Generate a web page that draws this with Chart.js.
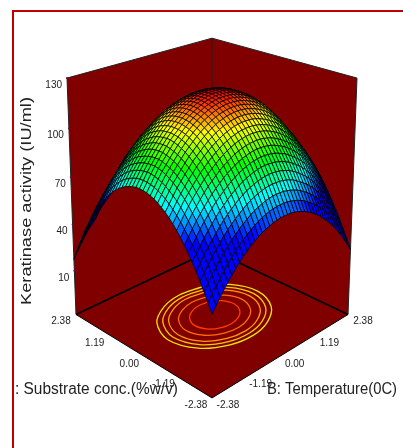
<!DOCTYPE html>
<html><head><meta charset="utf-8">
<style>
html,body{margin:0;padding:0;background:#fff;width:403px;height:448px;overflow:hidden}
#wrap{position:relative;width:403px;height:448px}
#frame{position:absolute;left:12px;top:10px;width:391px;height:438px;border-left:2.5px solid #c00000;border-top:2px solid #c00000;box-sizing:border-box}
canvas{position:absolute;left:0;top:0}
</style>
<script src="https://cdn.jsdelivr.net/npm/chart.js@4"></script>
</head><body><div id="wrap"><canvas id="c" width="403" height="448"></canvas><div id="frame"></div></div>
<script>
const axisEnds=[-2.38,2.38];
const zFloor=-19, zTop=130;
const zTicks=[130,100,70,40,10];
const floorTicks=[2.38,1.19,0.00,-1.19,-2.38];
const floorTickText=["2.38","1.19","0.00","-1.19","-2.38"];
const zTitle="Keratinase activity (IU/ml)";
const aTitle=": Substrate conc.(%w/v)";
const bTitle="B: Temperature(0C)";
const gridA=[-2.38,-2.261,-2.142,-2.023,-1.904,-1.785,-1.666,-1.547,-1.428,-1.309,-1.19,-1.071,-0.952,-0.833,-0.714,-0.595,-0.476,-0.357,-0.238,-0.119,0,0.119,0.238,0.357,0.476,0.595,0.714,0.833,0.952,1.071,1.19,1.309,1.428,1.547,1.666,1.785,1.904,2.023,2.142,2.261,2.38];
const gridB=gridA;
const zRows=[
[30,35.4,40.4,45.2,49.6,53.8,57.7,61.3,64.6,67.7,70.4,72.9,75,76.8,78.4,79.7,80.7,81.4,81.8,82,81.8,81.3,80.5,79.5,78.2,76.6,74.7,72.5,70,67.2,64.1,60.8,57.1,53.2,49,44.5,39.7,34.5,29.1,23.5,17.5],
[33.7,39.1,44.1,48.8,53.3,57.5,61.4,65,68.3,71.4,74.1,76.6,78.7,80.6,82.2,83.5,84.5,85.2,85.6,85.8,85.6,85.2,84.4,83.4,82.1,80.5,78.6,76.4,73.9,71.2,68.1,64.8,61.1,57.2,53,48.5,43.7,38.6,33.2,27.6,21.6],
[37.1,42.5,47.5,52.3,56.8,61,64.9,68.6,71.9,75,77.8,80.3,82.4,84.3,86,87.3,88.3,89,89.6,89.7,89.3,88.9,88.1,87.1,85.8,84.2,82.3,80.1,77.6,74.9,71.9,68.6,65,61.1,56.8,52.3,47.5,42.4,37,31.4,25.5],
[40.4,45.8,50.8,55.6,60.2,64.5,68.4,72.1,75.4,78.5,81.3,83.8,86,87.9,89.5,90.9,91.9,92.6,93.1,93.2,92.8,92.4,91.6,90.6,89.3,87.8,85.9,83.7,81.2,78.5,75.4,72.2,68.5,64.6,60.4,55.9,51.2,46.1,40.7,35,29.1],
[43.4,48.8,54,58.8,63.2,67.5,71.7,75.2,78.4,81.6,84.2,86.8,88.9,90.9,92.6,93.8,94.8,95.7,96.2,96.2,96,95.4,94.6,93.6,92.6,90.9,89,86.8,84.6,81.6,78.8,75.3,71.9,67.6,63.4,59.1,54.6,49.3,43.9,38.2,32.6],
[46.3,51.7,56.8,61.7,66.1,70.4,74.4,78,81.4,84.5,87.2,89.8,92,93.9,95.5,96.8,97.9,98.6,99.3,99.3,99.1,98.7,97.9,96.8,95.5,94,92.1,89.9,87.1,84.6,81.5,78.2,74.5,70.6,66.4,61.9,57.2,52.1,46.7,41,35],
[49.1,54.5,59.6,64.4,68.9,73.2,77.2,80.8,84.2,87.3,90,92.6,94.7,96.7,98.3,99.7,100.7,101.5,102,102.2,102,101.6,100.8,99.7,98.5,96.9,95,92.8,90.3,87.5,84.5,81.2,77.5,73.5,69.3,64.9,60.2,55.1,49.7,44,38.1],
[51.5,57,62.2,67,71.5,75.9,79.9,83.4,86.9,90,92.8,95.3,97.6,99.5,101.1,102.4,103.5,104.3,104.9,105,104.7,104.3,103.6,102.5,101.2,99.7,97.8,95.6,93.1,90.4,87.4,84.1,80.5,76.6,72.4,67.9,63.3,58.2,52.8,47.1,42],
[53.8,59.2,64.3,69.2,73.8,78,82,85.7,89,92.2,95,97.6,99.7,101.7,103.4,104.8,105.8,106.6,107.1,107.3,107.2,106.9,106.2,105.2,104,102.5,100.6,98.5,96.1,93.5,90.4,87.2,83.6,79.9,75.9,71.4,66.4,61.5,56.1,50.6,44.7],
[55.9,61.3,66.4,71.3,75.9,80.2,84.2,87.8,91.2,94.4,97.2,99.8,101.9,103.9,105.6,107,108.1,108.9,109.3,109.6,109.5,109.2,108.5,107.6,106.3,104.8,103,100.9,98.5,95.9,92.8,89.6,86,82.2,78.1,73.7,68.9,63.9,58.6,53.1,47.2],
[57.8,63.2,68.3,73.1,77.8,82.2,86.1,89.9,93.2,96.3,99.2,101.8,104,106,107.7,109.1,110.1,110.9,111.4,111.7,111.6,111.3,110.7,109.7,108.5,107,105.2,103.1,100.7,98.1,95,91.9,88.3,84.5,80.4,76,71.3,66.2,60.9,55.4,49.5],
[59.4,64.9,70,74.9,79.6,83.9,87.9,91.6,95,98.2,101,103.6,105.8,107.8,109.5,110.9,112,112.8,113.3,113.6,113.5,113.2,112.6,111.7,110.5,109,107.2,105.1,102.7,100.1,97,93.9,90.3,86.6,82.5,78.1,73.5,68.3,63,57.5,51.7],
[61,66.5,71.6,76.5,81.1,85.4,89.4,93.1,96.6,99.8,102.6,105.1,107.5,109.4,111.1,112.6,113.7,114.5,115,115.3,115.3,115,114.3,113.4,112.2,110.7,109,107,104.5,102,99,95.7,92.2,88.4,84.3,80,75.2,70.2,64.9,59.4,53.6],
[62.3,67.8,73,77.9,82.5,86.8,90.8,94.5,98,101.2,104.1,106.6,108.9,110.9,112.6,114,115.2,116,116.5,116.9,116.8,116.5,115.8,115,113.8,112.3,110.5,108.5,106.1,103.6,100.5,97.4,93.8,90,85.9,81.6,77,72,66.7,61.2,55.3],
[63.4,69,74.1,79,83.6,88,92,95.7,99.2,102.3,105.2,107.9,110.1,112.2,113.9,115.2,116.4,117.2,117.8,118.2,118.1,117.8,117.2,116.3,115.2,113.7,112,110,107.5,105,102,98.9,95.2,91.4,87.4,83.1,78.4,73.4,68.2,62.7,56.8],
[64.2,69.9,75,79.9,84.5,88.9,92.9,96.7,100.2,103.4,106.3,108.8,111.2,113.3,115,116.4,117.5,118.4,119,119.3,119.3,119,118.3,117.5,116.3,114.9,113.2,111.2,108.9,106.2,103.2,100.2,96.5,92.7,88.7,84.3,79.7,74.8,69.5,64,58.2],
[65,70.6,75.8,80.7,85.4,89.7,93.8,97.5,101,104.3,107.1,109.8,112,114.1,115.9,117.3,118.5,119.3,119.9,120.2,120.2,120,119.3,118.5,117.3,116,114.2,112.1,109.8,107.2,104.3,101.1,97.6,93.8,89.8,85.5,80.8,75.9,70.6,65.2,59.3],
[65.6,71.1,76.3,81.3,85.9,90.3,94.4,98.2,101.6,104.9,107.8,110.4,112.7,114.8,116.5,118,119.2,120,120.6,120.9,120.9,120.7,120.1,119.2,118.1,116.7,115,112.9,110.6,108,105,102,98.4,94.7,90.7,86.3,81.7,76.8,71.5,66.1,60.3],
[65.9,71.5,76.7,81.7,86.3,90.7,94.8,98.6,102,105.3,108.2,110.9,113.2,115.2,117,118.5,119.7,120.6,121.1,121.5,121.5,121.3,120.6,119.8,118.7,117.3,115.6,113.5,111.2,108.7,105.8,102.7,99.1,95.4,91.4,87.1,82.4,77.5,72.3,66.9,61.1],
[66,71.6,76.8,81.8,86.5,90.9,95,98.8,102.2,105.6,108.4,111.1,113.4,115.5,117.3,118.8,120,120.9,121.5,121.9,121.8,121.6,121,120.2,119.1,117.7,116,114,111.7,109.2,106.2,103.1,99.6,95.9,91.9,87.6,83,78.1,72.8,67.4,61.6],
[66,71.6,76.8,81.8,86.5,90.9,95,98.8,102.3,105.6,108.5,111.2,113.5,115.6,117.4,118.9,120.1,121,121.6,122,122,121.8,121.2,120.4,119.3,117.9,116.2,114.2,111.9,109.4,106.5,103.4,99.9,96.2,92.2,87.9,83.3,78.4,73.2,67.8,62],
[65.8,71.4,76.6,81.6,86.3,90.7,94.8,98.6,102.1,105.4,108.4,111,113.4,115.5,117.3,118.8,120,120.9,121.5,121.9,122,121.8,121.2,120.4,119.3,117.9,116.2,114.2,112,109.5,106.7,103.5,100.1,96.3,92.3,88,83.4,78.5,73.4,68,62.2],
[65.3,70.9,76.1,81.2,85.9,90.3,94.4,98.3,101.8,105.1,108,110.8,113,115.2,117,118.5,119.8,120.7,121.3,121.7,121.7,121.6,121,120.2,119.2,117.8,116.1,114.1,111.8,109.3,106.5,103.4,100,96.2,92.2,88,83.3,78.5,73.3,68,62.2],
[64.7,70.3,75.5,80.6,85.3,89.7,93.9,97.7,101.2,104.6,107.5,110.2,112.6,114.7,116.5,118.1,119.3,120.2,120.9,121.3,121.3,121.1,120.6,119.8,118.8,117.4,115.7,113.7,111.5,109,106.1,103,99.6,95.9,91.9,87.7,83,78.2,73.1,67.7,62],
[63.8,69.5,74.7,79.8,84.5,88.9,93,96.9,100.5,103.8,106.7,109.4,111.8,113.9,115.8,117.3,118.6,119.6,120.2,120.6,120.7,120.5,120,119.2,118.2,116.8,115.2,113.2,111,108.5,105.6,102.6,99.1,95.5,91.5,87.2,82.7,77.9,72.7,67.3,61.5],
[62.8,68.5,73.7,78.8,83.5,87.9,92,95.9,99.5,102.8,105.9,108.5,111,113.1,115,116.4,117.7,118.7,119.4,119.8,119.9,119.7,119.2,118.5,117.5,116.1,114.5,112.6,110.3,107.8,105.1,102,98.7,95,91.1,86.8,82.4,77.4,72.3,66.9,61.1],
[61.6,67.3,72.5,77.5,82.3,86.8,90.9,94.7,98.4,101.7,104.7,107.5,109.9,112,113.9,115.4,116.7,117.7,118.3,118.8,118.9,118.7,118.2,117.5,116.5,115.3,113.7,111.7,109.5,107,104.3,101.2,97.9,94.2,90.3,86,81.6,76.7,71.6,66.4,60.1],
[60.2,65.8,71,76,80.8,85.3,89.5,93.5,97,100.4,103.4,106.1,108.6,110.8,112.6,114.2,115.5,116.4,117.2,117.6,117.7,117.5,117.1,116.4,115.4,114.2,112.6,110.7,108.5,106,103.2,100.3,96.9,93.3,89.5,85.2,80.8,76.1,70.9,65.7,59.9],
[58.6,64.2,69.5,74.4,79.2,83.7,87.9,91.9,95.5,98.9,101.8,104.6,107.1,109.3,111.1,112.7,114,115.1,115.7,116.2,116.3,116.2,115.7,115,114,112.9,111.3,109.4,107.2,104.8,102,99,95.7,92.1,88.1,84,79.6,74.8,69.7,64.6,58.9],
[56.8,62.5,67.7,72.8,77.5,82.1,86.3,90.2,93.9,97.2,100.3,103.1,105.5,107.7,109.6,111.1,112.4,113.4,114.1,114.6,114.7,114.6,114.1,113.5,112.6,111.3,109.8,107.9,105.7,103.3,100.6,97.6,94.3,90.7,86.9,82.7,78.3,73.5,68.5,63.4,57.6],
[54.7,60.5,65.8,70.9,75.7,80.1,84.3,88.3,92,95.4,98.3,101.1,103.6,105.8,107.7,109.2,110.7,111.6,112.4,112.8,112.9,112.8,112.5,111.8,110.9,109.7,108.1,106.2,104.2,101.8,99,96.1,92.8,89.3,85.4,81.4,77,72.3,67.3,62.2,56.6],
[52.5,58.3,63.7,68.8,73.7,78.2,82.3,86.3,90,93.4,96.4,99.2,101.6,103.8,105.7,107.3,108.7,109.8,110.6,110.9,110.9,110.9,110.5,109.9,109,108,106.4,104.6,102.5,100,97.4,94.4,91.4,87.8,83.9,79.9,75.6,71,66.1,61,55.3],
[50.2,56.1,61.2,66.4,71.2,75.7,80,84,87.5,91.1,94.1,96.9,99.3,101.5,103.4,105,106.3,107.4,108.2,108.7,108.7,108.7,108.2,107.5,106.5,105.5,103.9,102.1,99.6,97.5,94.9,92,88.2,85,81.3,77.2,72,68.1,63.2,58,51.3],
[47.7,53.3,58.6,63.7,68.5,73,77.3,81.3,85,88.4,91.4,94.2,96.6,98.9,100.8,102.4,103.7,104.8,105.6,106.1,106.3,106.3,105.9,105.2,104.4,103.2,101.7,99.8,97.7,95.3,92.7,89.8,86.6,83,79.3,75.2,71,66.4,61.5,56.6,51],
[44.8,50.5,55.9,60.8,65.6,70.3,74.5,78.4,82.1,85.6,88.7,91.4,93.9,96,97.9,99.6,100.9,102,102.8,103.5,103.8,103.7,103.3,102.7,101.8,100.6,99.1,97.3,95.2,92.9,90.3,87.3,84.2,80.8,77,73,68.8,64.3,59.5,54.5,49.1],
[42,47.6,52.8,57.9,62.6,67.1,71.5,75.4,79.1,82.5,85.6,88.3,90.8,92.9,94.8,96.4,97.8,98.9,99.7,100.4,100.9,100.9,100.6,100,99.1,98,96.6,94.8,92.8,90.5,87.9,85,81.9,78.5,74.8,70.8,66.6,62.2,57.5,52.5,47.1],
[38.6,44.2,49.6,54.7,59.8,64.1,68.3,72.3,76.3,79.5,82.5,85.2,88.2,89.9,91.7,93.3,95.4,95.8,96.7,97.4,98,97.6,97.4,96.8,96,94.8,93.5,91.7,89.3,87.4,84.9,82.1,78,75.7,72,68.1,62,59.5,54.8,49.9,41.4],
[35.3,40.9,46.3,51.4,56.2,60.7,65.1,69,72.7,76.2,79.3,82,84.5,86.7,88.6,90.2,91.5,92.6,93.4,94.1,94.9,94.8,94.3,93.7,92.8,91.8,90.4,88.7,86.8,84.6,82.1,79.4,76.2,72.9,69.3,65.4,61.3,57,52.3,47.4,42.3],
[31.7,37.3,42.7,47.9,52.6,57.2,61.5,65.5,69.3,72.7,75.8,78.6,81,83.2,85.2,86.7,88,89.1,89.9,90.6,91.5,91.5,91.1,90.5,89.8,88.7,87.3,85.8,83.9,81.7,79.3,76.6,73.6,70.3,66.8,62.9,58.9,54.7,50.2,45.4,40.6],
[27.9,33.6,39,44.2,49,53.5,57.9,61.9,65.7,69.2,72.2,75.1,77.6,79.6,81.7,83.2,84.6,85.7,86.5,87.2,88,88,87.6,87.1,86.5,85.4,84.1,82.6,80.8,78.7,76.3,73.6,70.7,67.5,64,60.3,56.3,52.2,47.7,43,38],
[24,29.6,35.1,40.3,45.3,49.9,54.2,58.2,62,65.5,68.6,71.6,74.1,76.2,78.3,79.7,81.5,82.3,83.2,83.9,84.3,84.1,84,83.5,82.4,82,80.8,79.4,75.9,75.6,73.5,70.8,64.7,64.8,61.4,57.8,48.9,50,45.9,41.4,28.5]
];
const contourA=[
[1.25,1.14,0.71,-0.05,-0.78,-1.2,-1.35,-1.24,-0.81,-0.05,0.68,1.1,1.25],
[1.12,1.02,0.63,-0.05,-0.71,-1.09,-1.22,-1.12,-0.73,-0.05,0.61,0.99,1.12],
[0.99,0.9,0.56,-0.05,-0.63,-0.97,-1.09,-1,-0.66,-0.05,0.53,0.87,0.99],
[0.77,0.7,0.43,-0.05,-0.51,-0.77,-0.87,-0.8,-0.53,-0.05,0.41,0.67,0.77],
[0.53,0.48,0.29,-0.05,-0.37,-0.56,-0.63,-0.58,-0.39,-0.05,0.27,0.46,0.53]];
const contourB=[
[0.05,0.74,1.37,1.63,1.32,0.71,0.05,-0.64,-1.27,-1.53,-1.22,-0.61,0.05],
[0.05,0.67,1.24,1.47,1.19,0.64,0.05,-0.57,-1.14,-1.37,-1.09,-0.54,0.05],
[0.05,0.6,1.11,1.31,1.07,0.58,0.05,-0.5,-1.01,-1.21,-0.97,-0.48,0.05],
[0.05,0.48,0.88,1.05,0.85,0.47,0.05,-0.38,-0.78,-0.95,-0.75,-0.37,0.05],
[0.05,0.36,0.64,0.75,0.61,0.34,0.05,-0.26,-0.54,-0.65,-0.51,-0.24,0.05]];
const contourColors=['#ecec00','#f8c800','#ff9c00','#ff6c00','#ff3c00'];

function project(a,b,z){
  const s=a/2.38,t=b/2.38,H=(z-zFloor)/(zTop-zFloor);
  const X=(t-s)/2,D=(s+t)/2,w=1+0.128*D-0.062*H;
  return {x:212+136*X/w,y:(314.5-32.5*D-241.3*H)/w};
}
function zColor(z){
  const stops=[[62,[0,0,255]],[78,[0,255,255]],[94,[0,255,0]],[109,[255,255,0]],[122,[255,0,0]]];
  if(z<=stops[0][0])return 'rgb(0,0,255)';
  for(let i=1;i<stops.length;i++){
    if(z<=stops[i][0]){
      const f=(z-stops[i-1][0])/(stops[i][0]-stops[i-1][0]);
      const c=stops[i-1][1].map((v,k)=>Math.round(v+(stops[i][1][k]-v)*f));
      return `rgb(${c[0]},${c[1]},${c[2]})`;
    }
  }
  return 'rgb(255,0,0)';
}
const [lo,hi]=axisEnds;
const seq=[];
function poly(pts,fill,stroke,width){
  seq.push({data:pts,polyFill:fill,borderColor:stroke||'rgba(0,0,0,0)',borderWidth:stroke?(width||1):0,showLine:true,pointRadius:0,tension:0,parsing:false,normalized:false,clip:false});
}
const wallColor='#800000';
poly([project(hi,lo,zFloor),project(hi,lo,zTop),project(hi,hi,zTop),project(hi,hi,zFloor),project(hi,lo,zFloor)],wallColor,'#222',1);
poly([project(hi,hi,zFloor),project(hi,hi,zTop),project(lo,hi,zTop),project(lo,hi,zFloor),project(hi,hi,zFloor)],wallColor,'#222',1);
poly([project(lo,lo,zFloor),project(hi,lo,zFloor),project(hi,hi,zFloor),project(lo,hi,zFloor),project(lo,lo,zFloor)],wallColor,null);
poly([project(hi,lo,zFloor),project(hi,hi,zFloor),project(lo,hi,zFloor)],null,'#000',1.6);
poly([project(hi,lo,zFloor),project(lo,lo,zFloor),project(lo,hi,zFloor)],null,'#000',1);
contourA.forEach((as,i)=>{
  const ring=as.slice(1).concat(as.slice(1,2)), ringB=contourB[i].slice(1).concat(contourB[i].slice(1,2));
  const pts=ring.map((a,k)=>project(a,ringB[k],zFloor));
  seq.push({data:pts,borderColor:contourColors[i],borderWidth:1.3,showLine:true,pointRadius:0,tension:0.35,parsing:false,clip:false});
});
const tickPts=zTicks.map(z=>project(hi,lo,z));
seq.push({data:tickPts,showLine:false,pointRadius:1,pointBackgroundColor:'#80005a',pointBorderWidth:0,parsing:false,clip:false});
const cells=[];
for(let j=0;j<gridB.length-1;j++)for(let i=0;i<gridA.length-1;i++){
  const zs=[zRows[j][i],zRows[j][i+1],zRows[j+1][i+1],zRows[j+1][i]];
  cells.push({i,j,zs,depth:gridA[i]+gridB[j]});
}
cells.sort((p,q)=>q.depth-p.depth);
for(const c of cells){
  const {i,j,zs}=c;
  const pts=[project(gridA[i],gridB[j],zs[0]),project(gridA[i+1],gridB[j],zs[1]),project(gridA[i+1],gridB[j+1],zs[2]),project(gridA[i],gridB[j+1],zs[3]),project(gridA[i],gridB[j],zs[0])];
  poly(pts,zColor((zs[0]+zs[1]+zs[2]+zs[3])/4),'#000',0.75);
}
const polyPlugin={id:'poly',beforeDatasetDraw(chart,args){
  const ds=chart.data.datasets[args.index];
  if(!ds.polyFill)return;
  const ctx=chart.ctx,p=args.meta.data;
  ctx.save();ctx.beginPath();
  p.forEach((e,k)=>k?ctx.lineTo(e.x,e.y):ctx.moveTo(e.x,e.y));
  ctx.closePath();ctx.fillStyle=ds.polyFill;ctx.fill();ctx.restore();
}};
const textPlugin={id:'texts',afterDraw(chart){
  const ctx=chart.ctx,sx=chart.scales.x,sy=chart.scales.y;
  ctx.save();ctx.fillStyle='#222';ctx.textBaseline='middle';
  ctx.font='10px "Liberation Sans"';
  ctx.textAlign='right';
  zTicks.forEach(z=>{const p=project(hi,lo,z);ctx.fillText(String(z),sx.getPixelForValue(p.x)-5,sy.getPixelForValue(p.y)+7);});
  ctx.textAlign='center';
  const adx=[-15,-12,-10,-11,-16],ady=[7,10,11,9,7];
  floorTicks.forEach((v,k)=>{const p=project(v,lo,zFloor);ctx.fillText(floorTickText[k],p.x+adx[k],p.y+ady[k]);});
  const bdx=[16,11,10,12,15],bdy=[7,9,11,10,7];
  [...floorTicks].reverse().forEach((v,k)=>{const p=project(lo,v,zFloor);ctx.fillText(floorTickText[4-k],p.x+bdx[k],p.y+bdy[k]);});
  ctx.font='16px "Liberation Sans"';ctx.textAlign='left';
  ctx.save();ctx.translate(15,390);ctx.scale(163/ctx.measureText(aTitle).width,1);ctx.fillText(aTitle,0,0);ctx.restore();
  ctx.save();ctx.translate(267,390);ctx.scale(130/ctx.measureText(bTitle).width,1);ctx.fillText(bTitle,0,0);ctx.restore();
  ctx.save();ctx.translate(27,201);ctx.rotate(-Math.PI/2);ctx.textAlign='center';
  ctx.font='15.5px "Liberation Sans"';
  ctx.scale(208/ctx.measureText(zTitle).width,1);
  ctx.fillText(zTitle,0,0);ctx.restore();
  ctx.restore();
}};
new Chart(document.getElementById('c'),{
  type:'scatter',
  data:{datasets:seq.reverse()},
  options:{responsive:false,animation:false,events:[],
    layout:{padding:0,autoPadding:false},
    plugins:{legend:{display:false},tooltip:{enabled:false},title:{display:false}},
    scales:{x:{type:'linear',display:false,min:0,max:403},y:{type:'linear',display:false,min:0,max:448,reverse:true}}
  },
  plugins:[polyPlugin,textPlugin]
});
</script></body></html>
